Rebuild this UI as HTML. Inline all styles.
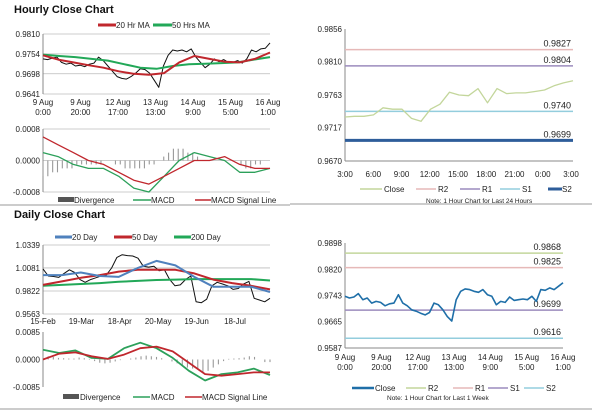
<!DOCTYPE html>
<html><head><meta charset="utf-8"><style>
html,body{margin:0;padding:0;background:#fff;}
svg{display:block;font-family:"Liberation Sans",Arial,sans-serif;}
.t{font-size:8px;fill:#222;}
.h{font-size:11px;font-weight:bold;fill:#111;}
</style></head><body>
<svg id="c" width="600" height="413" viewBox="0 0 600 413">
<text class="h" x="14" y="13">Hourly Close Chart</text>
<text class="h" x="14" y="218">Daily Close Chart</text>
<line x1="0" y1="205" x2="290" y2="205" stroke="#999"/>
<line x1="290" y1="204" x2="592" y2="204" stroke="#999"/>
<line x1="0" y1="409" x2="290" y2="409" stroke="#999"/>
<line x1="290" y1="409" x2="592" y2="409" stroke="#999"/>
<g class="t">
<line x1="98" y1="25" x2="116" y2="25" stroke="#c0272d" stroke-width="3"/><text x="116" y="28">20 Hr MA</text>
<line x1="153" y1="25" x2="172" y2="25" stroke="#22a858" stroke-width="3"/><text x="172" y="28">50 Hrs MA</text>
</g>
<g class="t">
<rect x="58" y="197" width="16" height="5" fill="#555"/><text x="74" y="203">Divergence</text>
<line x1="133" y1="200" x2="151" y2="200" stroke="#2ca05a" stroke-width="1.5"/><text x="151" y="203">MACD</text>
<line x1="195" y1="200" x2="211" y2="200" stroke="#c0272d" stroke-width="1.5"/><text x="211" y="203">MACD Signal Line</text>
</g>
<g class="t">
<line x1="55" y1="237" x2="72" y2="237" stroke="#4f81bd" stroke-width="3"/><text x="72" y="240">20 Day</text>
<line x1="114" y1="237" x2="132" y2="237" stroke="#c0272d" stroke-width="3"/><text x="132" y="240">50 Day</text>
<line x1="174" y1="237" x2="191" y2="237" stroke="#22a858" stroke-width="3"/><text x="191" y="240">200 Day</text>
</g>
<g class="t">
<rect x="63" y="394" width="16" height="5" fill="#555"/><text x="80" y="400">Divergence</text>
<line x1="133" y1="397" x2="150" y2="397" stroke="#2ca05a" stroke-width="1.5"/><text x="151" y="400">MACD</text>
<line x1="185" y1="397" x2="202" y2="397" stroke="#c0272d" stroke-width="1.5"/><text x="202" y="400">MACD Signal Line</text>
</g>
<g class="t">
<line x1="360" y1="189" x2="382" y2="189" stroke="#c3d69b" stroke-width="1.5"/><text x="384" y="192">Close</text>
<line x1="416" y1="189" x2="436" y2="189" stroke="#e6b9b8" stroke-width="1.5"/><text x="438" y="192">R2</text>
<line x1="460" y1="189" x2="480" y2="189" stroke="#9b8bbd" stroke-width="1.5"/><text x="482" y="192">R1</text>
<line x1="500" y1="189" x2="520" y2="189" stroke="#93cddd" stroke-width="1.5"/><text x="522" y="192">S1</text>
<line x1="548" y1="189" x2="562" y2="189" stroke="#2e5d9a" stroke-width="3"/><text x="562" y="192">S2</text>
<text x="426" y="203" style="font-size:6.5px">Note: 1 Hour Chart for Last 24 Hours</text>
</g>
<g class="t">
<line x1="352" y1="388" x2="374" y2="388" stroke="#1f6fa8" stroke-width="2.5"/><text x="375" y="391">Close</text>
<line x1="406" y1="388" x2="426" y2="388" stroke="#c3d69b" stroke-width="1.5"/><text x="428" y="391">R2</text>
<line x1="453" y1="388" x2="473" y2="388" stroke="#e6b9b8" stroke-width="1.5"/><text x="475" y="391">R1</text>
<line x1="488" y1="388" x2="508" y2="388" stroke="#9b8bbd" stroke-width="1.5"/><text x="510" y="391">S1</text>
<line x1="524" y1="388" x2="544" y2="388" stroke="#93cddd" stroke-width="1.5"/><text x="546" y="391">S2</text>
<text x="387" y="400" style="font-size:6.5px">Note: 1 Hour Chart for Last 1 Week</text>
</g>
</svg>
<script>
const hTicks = [0.9810, 0.9754, 0.9698, 0.9641];
const hXLabels = [["9 Aug","0:00"],["9 Aug","20:00"],["12 Aug","17:00"],["13 Aug","13:00"],["14 Aug","9:00"],["15 Aug","5:00"],["16 Aug","1:00"]];
const hClose = [0.9740,0.9738,0.9742,0.9745,0.9730,0.9725,0.9728,0.9720,0.9722,0.9718,0.9725,0.9728,0.9745,0.9735,0.9720,0.9705,0.9690,0.9685,0.9683,0.9690,0.9700,0.9712,0.9710,0.9700,0.9680,0.9660,0.9720,0.9750,0.9765,0.9762,0.9765,0.9760,0.9768,0.9745,0.9730,0.9715,0.9725,0.9740,0.9732,0.9738,0.9730,0.9730,0.9735,0.9728,0.9740,0.9765,0.9760,0.9768,0.9770,0.9785];
const hMA20 = [0.9750,0.9738,0.9730,0.9722,0.9715,0.9705,0.9698,0.9695,0.9700,0.9730,0.9748,0.9740,0.9732,0.9730,0.9740,0.9758];
const hMA50 = [0.9752,0.9748,0.9745,0.9740,0.9735,0.9725,0.9715,0.9712,0.9720,0.9725,0.9726,0.9728,0.9730,0.9738,0.9745];
const hMacdTicks = [0.0008, 0.0000, -0.0008];
const hMacd = [0.0002,0.0001,-0.0001,-0.0002,-0.0002,-0.0004,-0.0007,-0.0008,-0.0004,0.0000,0.0002,0.0001,0.0000,-0.0003,-0.0003,-0.0002];
const hSignal = [0.0006,0.0004,0.0002,0.0000,-0.0001,-0.0003,-0.0005,-0.0006,-0.0004,-0.0002,0.0000,0.0000,0.0001,-0.0001,-0.0002,-0.0002];
const hDiv = [-0.0004,-0.0004,-0.0003,-0.0003,-0.0002,-0.0002,-0.0002,-0.0001,-0.0001,-0.0001,-0.0001,-0.0001,-0.0001,0.0000,0.0000,-0.0001,-0.0001,-0.0002,-0.0002,-0.0002,-0.0002,-0.0002,-0.0001,-0.0001,0.0000,0.0001,0.0002,0.0003,0.0003,0.0003,0.0002,0.0002,0.0001,0.0000,0.0000,0.0000,0.0000,0.0000,0.0000,0.0000,0.0000,-0.0001,-0.0002,-0.0002,-0.0001,-0.0001,0.0000,0.0000];
const iTicks = [0.9856, 0.9810, 0.9763, 0.9717, 0.9670];
const iXLabels = ["3:00","6:00","9:00","12:00","15:00","18:00","21:00","0:00","3:00"];
const iClose = [0.9732,0.9733,0.9733,0.9735,0.9745,0.9743,0.9743,0.9730,0.9726,0.9743,0.9750,0.9767,0.9763,0.9762,0.9772,0.9752,0.9772,0.9765,0.9766,0.9766,0.9768,0.9770,0.9776,0.9780,0.9783];
const iLevelNames = ["R2","R1","S1","S2"];
const iLevels = [0.9827, 0.9804, 0.9740, 0.9699];
const dTicks = [1.0339, 1.0081, 0.9822, 0.9563];
const dXLabels = ["15-Feb","19-Mar","18-Apr","20-May","19-Jun","18-Jul"];
const dClose = [1.0070,0.9990,0.9985,0.9975,1.0020,1.0060,1.0030,0.9950,0.9920,0.9950,0.9970,0.9990,1.0000,1.0080,1.0200,1.0230,1.0220,1.0215,1.0190,1.0100,1.0090,1.0100,1.0050,1.0060,0.9950,0.9880,0.9890,0.9950,0.9990,0.9700,0.9690,0.9730,0.9880,0.9920,0.9900,0.9880,0.9840,0.9850,0.9900,0.9930,0.9740,0.9720,0.9700,0.9740];
const dMA20 = [1.0000,1.0000,1.0030,0.9990,0.9980,1.0080,1.0160,1.0110,0.9980,0.9870,0.9870,0.9870,0.9810];
const dMA50 = [0.9890,0.9930,0.9970,1.0000,1.0040,1.0060,1.0060,1.0060,1.0020,0.9950,0.9910,0.9880,0.9840];
const dMA200 = [0.9880,0.9890,0.9900,0.9910,0.9925,0.9935,0.9945,0.9950,0.9955,0.9955,0.9955,0.9955,0.9940];
const dMacdTicks = [0.0085, 0.0000, -0.0085];
const dMacd = [0.0030,0.0020,0.0028,0.0005,0.0002,0.0035,0.0052,0.0035,0.0005,-0.0035,-0.0065,-0.0045,-0.0040,-0.0028,-0.0048];
const dSignal = [0.0000,0.0018,0.0022,0.0010,0.0002,0.0015,0.0035,0.0040,0.0025,-0.0010,-0.0045,-0.0050,-0.0045,-0.0040,-0.0040];
const dDiv = [0.0012,0.0010,0.0008,0.0005,0.0004,0.0003,0.0003,0.0006,0.0004,0.0002,-0.0005,-0.0010,-0.0012,-0.0010,-0.0006,-0.0002,0.0000,0.0003,0.0006,0.0010,0.0012,0.0010,0.0008,0.0004,0.0000,-0.0006,-0.0012,-0.0020,-0.0025,-0.0028,-0.0030,-0.0040,-0.0035,-0.0025,-0.0015,-0.0005,0.0002,0.0003,0.0004,0.0006,0.0010,0.0008,0.0000,-0.0008,-0.0008];
const wTicks = [0.9898, 0.9820, 0.9743, 0.9665, 0.9587];
const wXLabels = [["9 Aug","0:00"],["9 Aug","20:00"],["12 Aug","17:00"],["13 Aug","13:00"],["14 Aug","9:00"],["15 Aug","5:00"],["16 Aug","1:00"]];
const wClose = [0.9740,0.9735,0.9738,0.9748,0.9730,0.9735,0.9720,0.9725,0.9722,0.9712,0.9718,0.9720,0.9745,0.9720,0.9712,0.9700,0.9696,0.9690,0.9685,0.9692,0.9720,0.9715,0.9700,0.9680,0.9667,0.9730,0.9755,0.9762,0.9760,0.9755,0.9752,0.9760,0.9745,0.9740,0.9715,0.9725,0.9722,0.9738,0.9728,0.9730,0.9732,0.9730,0.9740,0.9725,0.9760,0.9758,0.9765,0.9760,0.9770,0.9780];
const wLevelNames = ["R2","R1","S1","S2"];
const wLevels = [0.9868, 0.9825, 0.9699, 0.9616];

const svg = document.getElementById('c');
const NS = 'http://www.w3.org/2000/svg';
function mk(tag, attrs, txt){const e=document.createElementNS(NS,tag);for(const k in attrs)e.setAttribute(k,attrs[k]);if(txt!==undefined)e.textContent=txt;svg.appendChild(e);return e;}
function scale(d0,d1,r0,r1){return v=>r0+(v-d0)/(d1-d0)*(r1-r0);}
function idxX(n,x0,x1){return i=>x0+i*(x1-x0)/(n-1);}
function poly(arr,xs,ys,color,w,name){
  const pts=arr.map((v,i)=>xs(i).toFixed(1)+','+ys(v).toFixed(1)).join(' ');
  const p=mk('polyline',{points:pts,fill:'none',stroke:color,'stroke-width':w,'stroke-linejoin':'round'});
  
  
}
function yAxis(ticks,ys,x0,x1,grid,name){
  ticks.forEach(t=>{
    const y=ys(t);
    if(grid){const g=mk('line',{x1:x0,x2:x1,y1:y,y2:y,stroke:'#bbb','stroke-width':0.8});
      
      }
    const lb=mk('text',{x:x0-3,y:y+3,'text-anchor':'end',class:'t'},t.toFixed(4));
    
    
  });
  const ax=mk('line',{x1:x0,x2:x0,y1:ys(ticks[0]),y2:ys(ticks[ticks.length-1]),stroke:'#888'});
  
  
}
function bars(arr,x0,x1,ys,name){
  const xs=idxX(arr.length,x0,x1);const w=1.1;
  arr.forEach((v,i)=>{const y0=ys(0),y=ys(v);
    const r=mk('rect',{x:xs(i)-w/2,y:Math.min(y0,y),width:w,height:Math.abs(y-y0),fill:'#999'});
    
    });
}
function xLabels(labels,x0,x1,y,name){
  const xs=idxX(labels.length,x0,x1);
  labels.forEach((l,i)=>{const arr=Array.isArray(l)?l:[l];
    arr.forEach((s,j)=>{const t=mk('text',{x:xs(i),y:y+j*10,'text-anchor':'middle',class:'t'},s);
      
      });});
}
function levels(vals,names,colors,widths,x0,x1,ys,name){
  vals.forEach((v,i)=>{const y=ys(v);
    const l=mk('line',{x1:x0,x2:x1,y1:y,y2:y,stroke:colors[i],'stroke-width':widths[i]});
    
    
    const t=mk('text',{x:x1-2,y:y-3,'text-anchor':'end',class:'t',style:'font-size:9px'},v.toFixed(4));
    
    });
}

{const x0=43,x1=270,ys=scale(0.9641,0.9810,94,34);
 yAxis(hTicks,ys,x0,x1,true,'hourly');
 xLabels(hXLabels,x0,x1-2,105,'hourly');
 poly(hClose,idxX(hClose.length,x0,x1),ys,'#111',1,'hourly-close-line');
 poly(hMA50,idxX(hMA50.length,x0,x1),ys,'#22a858',2,'hourly-ma50-line');
 poly(hMA20,idxX(hMA20.length,x0,x1),ys,'#c0272d',2,'hourly-ma20-line');}
{const x0=43,x1=270,ys=scale(-0.0008,0.0008,192,129);
 yAxis(hMacdTicks,ys,x0,x1,true,'hourly-macd');
 bars(hDiv,x0,x1,ys,'hourly');
 poly(hMacd,idxX(hMacd.length,x0,x1),ys,'#2ca05a',1.3,'hourly-macd-line');
 poly(hSignal,idxX(hSignal.length,x0,x1),ys,'#c0272d',1.3,'hourly-signal-line');}
{const x0=345,x1=573,ys=scale(0.9670,0.9856,161,29);
 yAxis(iTicks,ys,x0,x1,false,'intraday');
 const bl=mk('line',{x1:x0,x2:x1,y1:161,y2:161,stroke:'#888'});
 
 
 xLabels(iXLabels,x0,x1-2,177,'intraday');
 levels(iLevels,iLevelNames,['#e6b9b8','#9b8bbd','#93cddd','#2e5d9a'],[1.5,1.5,1.5,3],x0,x1,ys,'intraday');
 poly(iClose,idxX(iClose.length,x0,x1),ys,'#c3d69b',1.3,'intraday-close-line');}
{const x0=43,x1=270,ys=scale(0.9563,1.0339,314,245);
 yAxis(dTicks,ys,x0,x1,true,'daily');
 xLabels(dXLabels,x0,235,324,'daily');
 poly(dClose,idxX(dClose.length,x0,x1),ys,'#111',1,'daily-close-line');
 poly(dMA200,idxX(dMA200.length,x0,x1),ys,'#22a858',2,'daily-ma200-line');
 poly(dMA50,idxX(dMA50.length,x0,x1),ys,'#c0272d',2,'daily-ma50-line');
 poly(dMA20,idxX(dMA20.length,x0,x1),ys,'#4f81bd',2,'daily-ma20-line');}
{const x0=43,x1=270,ys=scale(-0.0085,0.0085,387,332);
 yAxis(dMacdTicks,ys,x0,x1,false,'daily-macd');
 bars(dDiv,x0,x1,ys,'daily');
 poly(dMacd,idxX(dMacd.length,x0,x1),ys,'#2ca05a',1.8,'daily-macd-line');
 poly(dSignal,idxX(dSignal.length,x0,x1),ys,'#c0272d',1.8,'daily-signal-line');}
{const x0=345,x1=563,ys=scale(0.9587,0.9898,348,243);
 yAxis(wTicks,ys,x0,x1,false,'weekly');
 const bl=mk('line',{x1:x0,x2:x1,y1:348,y2:348,stroke:'#888'});
 
 
 xLabels(wXLabels,x0,x1,360,'weekly');
 levels(wLevels,wLevelNames,['#c3d69b','#e6b9b8','#9b8bbd','#93cddd'],[1.5,1.5,1.5,1.5],x0,x1,ys,'weekly');
 poly(wClose,idxX(wClose.length,x0,x1),ys,'#1f6fa8',1.6,'weekly-close-line');}
</script>
</body></html>
